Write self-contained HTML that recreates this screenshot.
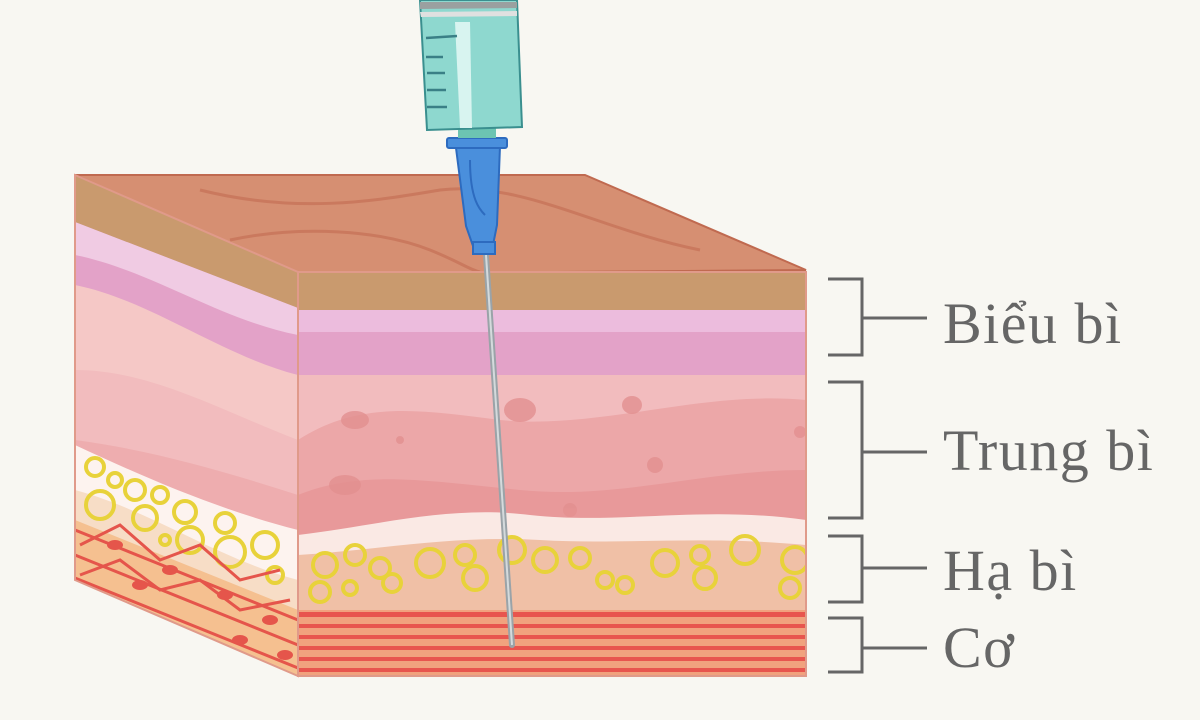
<!DOCTYPE html>
<html><head><meta charset="utf-8"><style>
html,body{margin:0;padding:0;background:#f8f7f2;}
svg{display:block}
text{font-family:"Liberation Serif",serif;fill:#666;font-size:58px;letter-spacing:1.5px}
</style></head><body>
<svg width="1200" height="720" viewBox="0 0 1200 720" xmlns="http://www.w3.org/2000/svg">
<rect width="1200" height="720" fill="#f8f7f2"/>
<defs>
<clipPath id="front"><rect x="298" y="272" width="508" height="404"/></clipPath>
<clipPath id="left"><polygon points="75,175 298,272 298,676 75,580"/></clipPath>
</defs>
<polygon points="75,175 585,175 806,270 298,274" fill="#d68f72" stroke="#c06a50" stroke-width="2"/>
<path d="M200,190 C300,215 380,200 440,190 C520,180 600,230 700,250" stroke="#c26a52" stroke-width="3" fill="none" opacity="0.6"/>
<path d="M230,240 C300,225 380,230 430,250 C460,262 470,270 480,272" stroke="#c26a52" stroke-width="3" fill="none" opacity="0.6"/>
<g clip-path="url(#front)">
<rect x="298" y="272" width="508" height="404" fill="#efc0a8"/>
<rect x="298" y="272" width="508" height="38" fill="#c99a6e"/>
<rect x="298" y="310" width="508" height="65" fill="#e3a2c8"/>
<rect x="298" y="310" width="508" height="22" fill="#ecbcdd"/>
<path d="M298,375 L806,375 L806,600 L298,600Z" fill="#f2bcbe"/>
<path d="M298,440 C360,400 420,410 500,420 C600,430 700,390 806,400 L806,600 L298,600Z" fill="#eca7a8"/>
<path d="M298,495 C360,470 420,480 520,490 C620,500 700,470 806,470 L806,600 L298,600Z" fill="#e8999a"/>
<path d="M298,535 C380,525 450,505 530,515 C620,525 700,505 806,520 L806,620 L298,620Z" fill="#fae9e4"/>
<path d="M298,555 C380,550 450,535 540,540 C620,545 700,535 806,545 L806,620 L298,620Z" fill="#f0c0a6"/>
<g fill="none" stroke="#e8d23a" stroke-width="4">
<circle cx="325" cy="565" r="12"/><circle cx="355" cy="555" r="10"/><circle cx="380" cy="568" r="10"/><circle cx="320" cy="592" r="10"/><circle cx="350" cy="588" r="7"/><circle cx="392" cy="583" r="9"/>
<circle cx="430" cy="563" r="14"/><circle cx="465" cy="555" r="10"/><circle cx="475" cy="578" r="12"/><circle cx="512" cy="550" r="13"/><circle cx="545" cy="560" r="12"/><circle cx="580" cy="558" r="10"/><circle cx="605" cy="580" r="8"/>
<circle cx="625" cy="585" r="8"/><circle cx="665" cy="563" r="13"/><circle cx="700" cy="555" r="9"/><circle cx="705" cy="578" r="11"/><circle cx="745" cy="550" r="14"/><circle cx="795" cy="560" r="13"/><circle cx="790" cy="588" r="10"/>
</g>
<rect x="298" y="610" width="508" height="66" fill="#f1a27e"/>
<g fill="#e8554e">
<rect x="298" y="612" width="508" height="5"/><rect x="298" y="624" width="508" height="4"/><rect x="298" y="635" width="508" height="4"/><rect x="298" y="646" width="508" height="4"/><rect x="298" y="657" width="508" height="4"/><rect x="298" y="668" width="508" height="4"/>
</g>
<g fill="#e39090" opacity="0.8">
<ellipse cx="355" cy="420" rx="14" ry="9"/><ellipse cx="520" cy="410" rx="16" ry="12"/><ellipse cx="632" cy="405" rx="10" ry="9"/><ellipse cx="345" cy="485" rx="16" ry="10"/><circle cx="400" cy="440" r="4"/><circle cx="570" cy="510" r="7"/><circle cx="655" cy="465" r="8"/><circle cx="800" cy="432" r="6"/>
</g>
</g>
<g clip-path="url(#left)">
<rect x="75" y="175" width="223" height="505" fill="#f5c8c6"/>
<polygon points="75,175 298,272 298,310 75,225" fill="#c99a6e"/>
<path d="M75,222 L298,308 L298,375 C220,355 150,300 75,285Z" fill="#e3a2c8"/>
<path d="M75,222 L298,308 L298,335 C220,320 150,270 75,255Z" fill="#f0cbe3"/>
<path d="M75,370 C150,370 220,410 298,440 L298,680 L75,680Z" fill="#f2bcbe"/>
<path d="M75,440 C150,450 220,470 298,495 L298,680 L75,680Z" fill="#eca7a8" opacity="0.7"/>
<path d="M75,445 C150,480 220,510 298,530 L298,680 L75,680Z" fill="#fdf3ef"/>
<path d="M75,490 C150,510 220,560 298,580 L298,680 L75,680Z" fill="#f7ddc6"/>
<g fill="none" stroke="#e8d23a" stroke-width="4">
<circle cx="95" cy="467" r="9"/><circle cx="115" cy="480" r="7"/><circle cx="135" cy="490" r="10"/><circle cx="100" cy="505" r="14"/><circle cx="145" cy="518" r="12"/><circle cx="160" cy="495" r="8"/><circle cx="185" cy="512" r="11"/><circle cx="190" cy="540" r="13"/><circle cx="225" cy="523" r="10"/><circle cx="230" cy="552" r="15"/><circle cx="265" cy="545" r="13"/><circle cx="275" cy="575" r="8"/><circle cx="165" cy="540" r="5"/>
</g>
<path d="M75,520 L298,610 L298,680 L75,680Z" fill="#f5c090"/>
<g stroke="#e5554b" stroke-width="3" fill="none">
<path d="M75,530 L298,620"/><path d="M75,555 L298,645"/><path d="M75,578 L298,668"/>
<path d="M80,545 L120,525 L160,560 L200,545 L240,580 L280,570"/>
<path d="M80,575 L120,560 L160,590 L200,580 L240,610 L290,600"/>
</g>
<g fill="#e5554b">
<ellipse cx="115" cy="545" rx="8" ry="5"/><ellipse cx="170" cy="570" rx="8" ry="5"/><ellipse cx="225" cy="595" rx="8" ry="5"/><ellipse cx="270" cy="620" rx="8" ry="5"/><ellipse cx="140" cy="585" rx="8" ry="5"/><ellipse cx="240" cy="640" rx="8" ry="5"/><ellipse cx="285" cy="655" rx="8" ry="5"/>
</g>
</g>
<polygon points="75,175 298,272 298,676 75,580" fill="none" stroke="#e09a8a" stroke-width="2"/>
<rect x="298" y="272" width="508" height="404" fill="none" stroke="#e09a8a" stroke-width="2"/>
<line x1="486" y1="255" x2="512" y2="645" stroke="#9aa3a8" stroke-width="6" stroke-linecap="round"/>
<line x1="486" y1="255" x2="512" y2="645" stroke="#d4dadc" stroke-width="2"/>
<path d="M456,148 L500,146 L497,225 L493,245 L473,246 L466,226Z" fill="#4a8fdc" stroke="#2d6bbf" stroke-width="2"/>
<rect x="447" y="138" width="60" height="10" rx="2" fill="#4a8fdc" stroke="#2d6bbf" stroke-width="2"/>
<path d="M470,160 C470,200 480,210 485,215" stroke="#2d6bbf" stroke-width="2" fill="none"/>
<rect x="473" y="242" width="22" height="12" fill="#4a8fdc" stroke="#2d6bbf" stroke-width="2"/>
<rect x="458" y="128" width="38" height="10" fill="#6cc4b2"/>
<polygon points="420,0 517,0 522,127 427,130" fill="#8ed8cf" stroke="#3a8f8f" stroke-width="2"/>
<polygon points="420,2 517,2 517,8 420,9" fill="#9aa0a0"/>
<polygon points="420,12 517,11 517,16 421,17" fill="#e0e0e0"/>
<polygon points="455,22 470,22 472,128 460,128" fill="#d8f4f0"/>
<g stroke="#3a7f86" stroke-width="2.5">
<line x1="426" y1="38" x2="457" y2="36"/><line x1="426" y1="57" x2="443" y2="57"/><line x1="427" y1="73" x2="445" y2="73"/><line x1="427" y1="90" x2="446" y2="90"/><line x1="427" y1="107" x2="447" y2="107"/>
</g>
<g stroke="#666" stroke-width="3" fill="none">
<path d="M828,279 H862 V355 H828 M862,318 H927"/>
<path d="M828,382 H862 V518 H828 M862,452 H927"/>
<path d="M828,536 H862 V602 H828 M862,568 H927"/>
<path d="M828,618 H862 V672 H828 M862,648 H927"/>
</g>
<text x="943" y="343">Biểu bì</text>
<text x="943" y="470">Trung bì</text>
<text x="943" y="590">Hạ bì</text>
<text x="943" y="667">Cơ</text>
</svg>
</body></html>
